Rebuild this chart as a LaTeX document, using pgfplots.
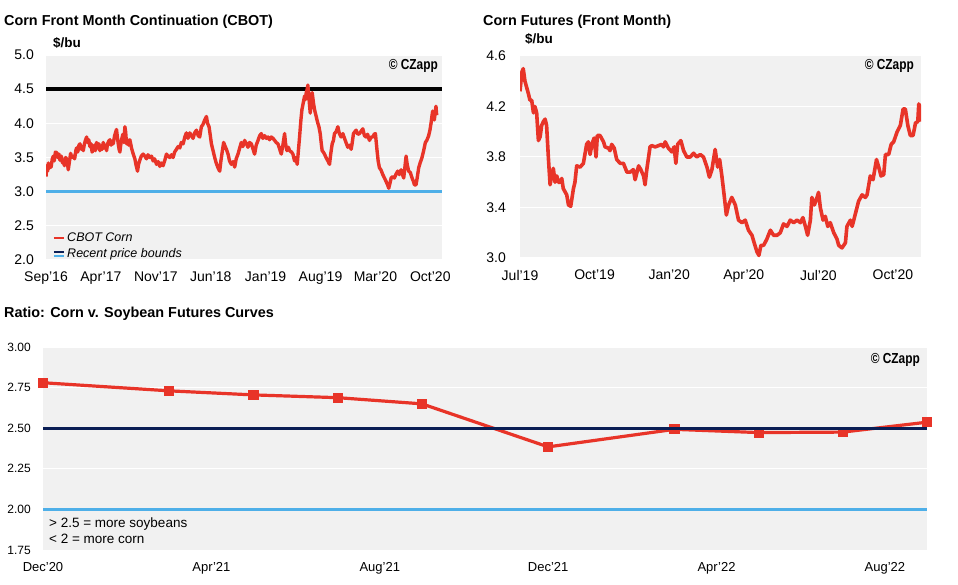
\documentclass[border=0pt]{standalone}
\usepackage{fontspec}
\setmainfont{Liberation Sans}
\usepackage{graphicx}
\usepackage{pgfplots}
\pgfplotsset{compat=1.18}
\definecolor{czred}{RGB}{232,52,40}
\definecolor{cznavy}{RGB}{10,30,85}
\definecolor{czblue}{RGB}{78,175,232}
\definecolor{czbg}{RGB}{241,241,241}
\newcommand{\wm}{\fontsize{14.5}{16}\selectfont\bfseries\scalebox{0.82}[1]{\textcopyright{} CZapp}}
\pgfplotsset{czstyle/.style={
  scale only axis, anchor=south west,
  axis background/.style={fill=czbg},
  axis line style={draw=none},
  major tick length=0pt,
  ymajorgrids, xmajorgrids=false,
  grid style={white, line width=1pt},
  yticklabel style={inner sep=0pt, anchor=east, xshift=-12pt},
  xticklabel style={inner sep=0pt, anchor=north, yshift=-12pt},
}}
\begin{document}
\begin{tikzpicture}
\path[use as bounding box] (0pt,0pt) rectangle (958pt,584pt);
% titles
\node[anchor=base west, inner sep=0] at (4pt,558pt) {\fontsize{14.4}{16}\selectfont\bfseries Corn Front Month Continuation (CBOT)};
\node[anchor=base west, inner sep=0] at (483pt,558pt) {\fontsize{14.4}{16}\selectfont\bfseries Corn Futures (Front Month)};
\node[anchor=base west, inner sep=0] at (4pt,266pt) {\fontsize{14.4}{16}\selectfont\bfseries Ratio: Corn v. Soybean Futures Curves};
\node[anchor=base west, inner sep=0] at (53pt,536pt) {\fontsize{13.5}{15}\selectfont\bfseries \$/bu};
\node[anchor=base west, inner sep=0] at (525pt,540pt) {\fontsize{13.5}{15}\selectfont\bfseries \$/bu};

% ---------------- top-left ----------------
\begin{axis}[czstyle, at={(46pt,324pt)}, width=396pt, height=205pt,
  xmin=0, xmax=50.49, ymin=2, ymax=5,
  ytick={2,2.5,3,3.5,4,4.5,5}, yticklabels={2.0,2.5,3.0,3.5,4.0,4.5,5.0},
  xtick={0,7,14,21,28,35,42,49},
  xticklabels={Sep'16,Apr'17,Nov'17,Jun'18,Jan'19,Aug'19,Mar'20,Oct'20},
  tick label style={font=\fontsize{14}{16}\selectfont},
  legend style={at={(0.014,-0.012)}, anchor=south west, draw=none, fill=none,
    font=\fontsize{12.5}{14}\selectfont\itshape, row sep=1.5pt, inner sep=1pt},
  legend cell align=left,
]
\addplot[forget plot, black, line width=3.8pt] coordinates {(0,4.5) (50.49,4.5)};
\addplot[forget plot, czblue, line width=3.2pt] coordinates {(0,3.0) (50.49,3.0)};
\addplot[czred, line width=3.4pt, line join=round,
  legend image code/.code={\draw[czred,line width=2.5pt] (0pt,0pt) -- (10pt,0pt);}]
 coordinates {
(0.00,3.22)(0.10,3.38)(0.20,3.30)(0.30,3.42)(0.40,3.34)(0.51,3.40)(0.65,3.36)(0.80,3.48)
(0.93,3.52)(1.05,3.45)(1.20,3.58)(1.36,3.57)(1.50,3.50)(1.65,3.55)(1.78,3.46)(1.95,3.52)
(2.10,3.42)(2.21,3.46)(2.35,3.38)(2.50,3.50)(2.63,3.48)(2.75,3.40)(2.84,3.32)(3.00,3.45)
(3.14,3.56)(3.30,3.50)(3.48,3.52)(3.65,3.48)(3.80,3.60)(3.90,3.64)(4.05,3.58)(4.20,3.68)
(4.33,3.70)(4.50,3.62)(4.62,3.66)(4.75,3.60)(4.90,3.70)(5.05,3.76)(5.18,3.80)(5.30,3.72)
(5.45,3.76)(5.60,3.66)(5.75,3.70)(5.88,3.58)(6.02,3.62)(6.15,3.68)(6.30,3.60)(6.45,3.72)
(6.60,3.64)(6.75,3.70)(6.87,3.60)(7.00,3.66)(7.15,3.62)(7.30,3.72)(7.45,3.64)(7.60,3.68)
(7.72,3.60)(7.85,3.70)(8.00,3.74)(8.15,3.76)(8.30,3.68)(8.45,3.74)(8.57,3.70)(8.75,3.82)
(8.99,3.91)(9.10,3.80)(9.21,3.70)(9.32,3.62)(9.42,3.58)(9.52,3.68)(9.63,3.76)(9.80,3.84)
(9.92,3.72)(10.06,3.95)(10.15,3.88)(10.27,3.70)(10.40,3.76)(10.55,3.68)(10.69,3.76)(10.80,3.70)
(10.90,3.64)(11.10,3.56)(11.33,3.48)(11.50,3.38)(11.67,3.30)(11.80,3.40)(11.96,3.46)(12.15,3.52)
(12.39,3.55)(12.60,3.52)(12.81,3.48)(13.00,3.54)(13.24,3.50)(13.45,3.52)(13.66,3.45)(13.85,3.48)
(14.09,3.40)(14.30,3.44)(14.51,3.37)(14.70,3.42)(14.93,3.38)(15.15,3.46)(15.36,3.55)(15.55,3.52)
(15.78,3.50)(16.00,3.54)(16.21,3.50)(16.40,3.58)(16.63,3.62)(16.85,3.66)(17.06,3.64)(17.25,3.72)
(17.48,3.70)(17.70,3.80)(17.90,3.86)(18.10,3.78)(18.33,3.86)(18.55,3.82)(18.75,3.78)(18.95,3.86)
(19.18,3.90)(19.40,3.82)(19.60,3.80)(19.81,3.95)(20.00,3.98)(20.24,4.05)(20.45,4.10)(20.60,4.00)
(20.79,3.95)(20.95,3.82)(21.09,3.70)(21.30,3.60)(21.51,3.50)(21.70,3.42)(21.93,3.35)(22.15,3.30)
(22.30,3.45)(22.49,3.60)(22.65,3.72)(22.78,3.68)(23.00,3.62)(23.21,3.55)(23.40,3.45)(23.63,3.40)
(23.85,3.44)(24.06,3.36)(24.25,3.48)(24.48,3.55)(24.70,3.64)(24.90,3.72)(25.10,3.66)(25.33,3.75)
(25.55,3.70)(25.75,3.65)(25.95,3.72)(26.18,3.70)(26.40,3.62)(26.60,3.55)(26.80,3.68)(27.03,3.75)
(27.25,3.82)(27.45,3.85)(27.65,3.78)(27.87,3.82)(28.10,3.78)(28.30,3.80)(28.50,3.76)(28.72,3.80)
(28.95,3.78)(29.15,3.75)(29.35,3.72)(29.57,3.70)(29.80,3.62)(30.00,3.55)(30.20,3.68)(30.42,3.85)
(30.55,3.70)(30.72,3.60)(30.90,3.65)(31.06,3.60)(31.30,3.58)(31.48,3.55)(31.69,3.45)(31.85,3.50)
(32.03,3.40)(32.18,3.60)(32.33,3.80)(32.50,4.05)(32.63,4.20)(32.80,4.30)(32.97,4.40)(33.10,4.35)
(33.18,4.45)(33.30,4.50)(33.39,4.56)(33.50,4.40)(33.69,4.15)(33.80,4.30)(33.94,4.45)(34.10,4.30)
(34.24,4.20)(34.45,4.10)(34.66,4.00)(34.80,3.95)(34.96,3.85)(35.10,3.70)(35.21,3.60)(35.35,3.58)
(35.51,3.55)(35.70,3.50)(35.94,3.45)(36.15,3.40)(36.30,3.55)(36.49,3.70)(36.65,3.75)(36.78,3.85)
(37.00,3.88)(37.21,3.95)(37.40,3.85)(37.63,3.80)(37.85,3.85)(38.06,3.78)(38.25,3.72)(38.48,3.65)
(38.70,3.68)(38.91,3.62)(39.05,3.72)(39.20,3.85)(39.40,3.88)(39.54,3.90)(39.75,3.84)(39.97,3.85)
(40.15,3.88)(40.39,3.92)(40.60,3.82)(40.81,3.80)(41.00,3.84)(41.24,3.75)(41.45,3.80)(41.66,3.80)
(41.85,3.84)(42.00,3.85)(42.21,3.60)(42.35,3.45)(42.51,3.35)(42.70,3.32)(42.94,3.25)(43.15,3.20)
(43.36,3.15)(43.55,3.10)(43.70,3.05)(43.85,3.12)(44.00,3.20)(44.20,3.22)(44.42,3.20)(44.60,3.25)
(44.84,3.30)(45.05,3.25)(45.27,3.32)(45.45,3.25)(45.61,3.20)(45.75,3.35)(45.91,3.52)(46.05,3.40)
(46.24,3.30)(46.45,3.28)(46.67,3.20)(46.85,3.15)(46.97,3.10)(47.18,3.10)(47.35,3.22)(47.52,3.35)
(47.70,3.42)(47.94,3.50)(48.15,3.60)(48.37,3.72)(48.55,3.75)(48.79,3.82)(48.95,3.90)(49.09,4.00)
(49.20,4.10)(49.30,4.18)(49.40,4.08)(49.51,4.05)(49.62,4.15)(49.72,4.25)(49.81,4.12)
};
\addlegendentry{CBOT Corn}
\addlegendimage{legend image code/.code={
  \draw[cznavy,line width=2.3pt] (0pt,1.7pt) -- (10pt,1.7pt);
  \draw[czblue,line width=2.3pt] (0pt,-1.7pt) -- (10pt,-1.7pt);}}
\addlegendentry{Recent price bounds}
\end{axis}
\node[anchor=base east, inner sep=0] at (438pt,514pt) {\wm};

% ---------------- top-right ----------------
\begin{axis}[czstyle, at={(520pt,326pt)}, width=401pt, height=202pt,
  xmin=0, xmax=16.13, ymin=3.0, ymax=4.6,
  ytick={3.0,3.4,3.8,4.2,4.6}, yticklabels={3.0,3.4,3.8,4.2,4.6},
  xtick={0,3,6,9,12,15},
  xticklabels={Jul'19,Oct'19,Jan'20,Apr'20,Jul'20,Oct'20},
  tick label style={font=\fontsize{14}{16}\selectfont},
  yticklabel style={xshift=-2pt},
]
\addplot[czred, line width=3.6pt, line join=round] coordinates {
(0.00,4.32)(0.03,4.38)(0.07,4.47)(0.13,4.50)(0.20,4.40)(0.27,4.35)(0.34,4.30)(0.40,4.25)
(0.47,4.25)(0.54,4.15)(0.60,4.20)(0.67,4.15)(0.74,3.93)(0.81,3.96)(0.87,4.05)(0.94,4.08)
(1.01,4.10)(1.07,4.05)(1.14,3.80)(1.21,3.58)(1.28,3.66)(1.34,3.71)(1.41,3.60)(1.48,3.65)
(1.54,3.60)(1.61,3.60)(1.68,3.63)(1.74,3.55)(1.88,3.50)(1.95,3.42)(2.04,3.41)(2.15,3.55)
(2.21,3.60)(2.28,3.73)(2.42,3.72)(2.55,3.75)(2.68,3.90)(2.75,3.92)(2.82,3.82)(2.89,3.90)
(2.98,3.95)(3.06,3.80)(3.11,3.97)(3.22,3.97)(3.36,3.92)(3.42,3.88)(3.56,3.87)(3.62,3.85)
(3.69,3.90)(3.79,3.87)(3.89,3.78)(4.03,3.75)(4.16,3.75)(4.30,3.68)(4.43,3.68)(4.56,3.70)
(4.63,3.62)(4.77,3.73)(4.86,3.70)(4.97,3.65)(5.03,3.58)(5.10,3.70)(5.23,3.88)(5.30,3.89)
(5.44,3.88)(5.57,3.89)(5.70,3.90)(5.77,3.88)(5.84,3.92)(5.97,3.87)(6.11,3.84)(6.20,3.88)
(6.27,3.75)(6.34,3.90)(6.47,3.93)(6.58,3.85)(6.71,3.80)(6.85,3.80)(6.98,3.83)(7.11,3.80)
(7.25,3.82)(7.38,3.80)(7.52,3.72)(7.62,3.64)(7.72,3.70)(7.85,3.86)(7.95,3.72)(8.03,3.78)
(8.12,3.65)(8.21,3.50)(8.30,3.34)(8.39,3.42)(8.52,3.48)(8.66,3.42)(8.79,3.30)(8.93,3.28)
(9.06,3.30)(9.19,3.22)(9.33,3.18)(9.42,3.12)(9.53,3.05)(9.61,3.02)(9.69,3.10)(9.80,3.10)
(9.93,3.15)(10.07,3.22)(10.20,3.18)(10.34,3.18)(10.47,3.20)(10.60,3.27)(10.74,3.25)(10.87,3.30)
(11.01,3.28)(11.14,3.30)(11.28,3.28)(11.38,3.32)(11.48,3.25)(11.57,3.18)(11.68,3.30)(11.74,3.48)
(11.84,3.42)(11.95,3.48)(12.01,3.52)(12.08,3.40)(12.19,3.30)(12.28,3.33)(12.38,3.25)(12.48,3.28)
(12.62,3.20)(12.75,3.15)(12.82,3.10)(12.95,3.08)(13.09,3.12)(13.15,3.25)(13.29,3.30)(13.36,3.25)
(13.49,3.35)(13.62,3.45)(13.76,3.50)(13.89,3.48)(13.96,3.50)(14.09,3.65)(14.20,3.62)(14.34,3.78)
(14.43,3.72)(14.52,3.65)(14.63,3.66)(14.70,3.82)(14.83,3.82)(14.93,3.90)(15.03,3.92)(15.17,4.00)
(15.30,4.05)(15.41,4.18)(15.50,4.18)(15.60,4.05)(15.70,3.97)(15.81,3.97)(15.91,4.07)(16.00,4.08)
(16.04,4.22)(16.08,4.20)(16.13,4.08)
};
\end{axis}
\node[anchor=base east, inner sep=0] at (914pt,514pt) {\wm};

% ---------------- bottom ----------------
\begin{axis}[czstyle, at={(43pt,34pt)}, width=884pt, height=203pt,
  xmin=0, xmax=21, ymin=1.75, ymax=3.0, clip mode=individual,
  ytick={1.75,2,2.25,2.5,2.75,3}, yticklabels={1.75,2.00,2.25,2.50,2.75,3.00},
  xtick={0,4,8,12,16,20},
  xticklabels={Dec'20,Apr'21,Aug'21,Dec'21,Apr'22,Aug'22},
  yticklabel style={font=\fontsize{12}{14}\selectfont},
  xticklabel style={font=\fontsize{13}{15}\selectfont},
]
\addplot[czred, line width=3.2pt, mark=square*, mark size=4.6pt, line join=round,
  mark options={line width=0pt, fill=czred, draw=czred}] coordinates {
(0,2.78)(3,2.73)(5,2.705)(7,2.688)(9,2.65)(12,2.385)(15,2.493)(17,2.473)(19,2.476)(21,2.537)
};
\addplot[cznavy, line width=3pt] coordinates {(0,2.5)(21,2.5)};
\addplot[czblue, line width=3pt] coordinates {(0,2.0)(21,2.0)};
\end{axis}
\node[anchor=base east, inner sep=0] at (920pt,220pt) {\wm};
\node[anchor=base west, inner sep=0, align=left] at (49pt,57pt) {\fontsize{13.5}{15}\selectfont > 2.5 = more soybeans};
\node[anchor=base west, inner sep=0, align=left] at (49pt,41pt) {\fontsize{13.5}{15}\selectfont < 2 = more corn};
\end{tikzpicture}
\end{document}
